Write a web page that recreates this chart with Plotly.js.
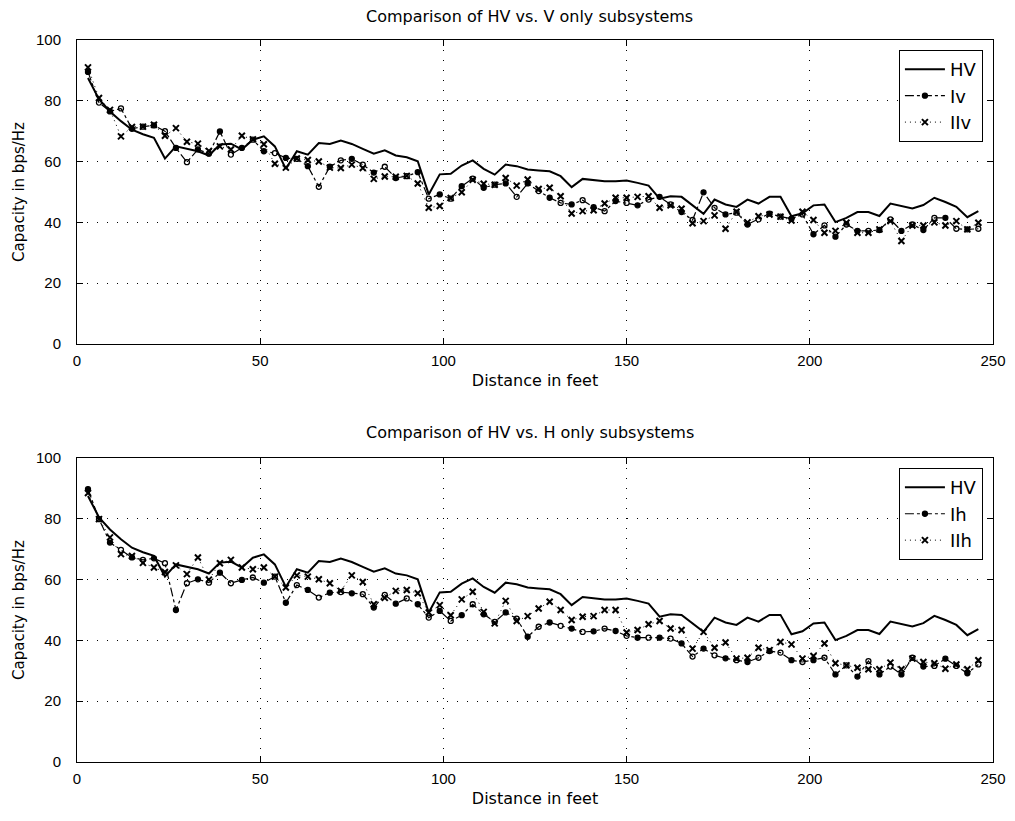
<!DOCTYPE html>
<html>
<head>
<meta charset="utf-8">
<script src="https://cdn.plot.ly/plotly-3.0.1.min.js"></script>
<style>html,body{margin:0;padding:0;background:#fff;}#chart{width:1015px;height:821px;}</style>
</head>
<body>
<div id="chart"></div>
<script>
// Distance in feet
const dist = [3,6,9,12,15,18,21,24,27,30,33,36,39,42,45,48,51,54,57,60,
  63,66,69,72,75,78,81,84,87,90,93,96,99,102,105,108,111,114,117,120,
  123,126,129,132,135,138,141,144,147,150,153,156,159,162,165,168,171,174,177,180,
  183,186,189,192,195,198,201,204,207,210,213,216,219,222,225,228,231,234,237,240,
  243,246];

// Capacity in bps/Hz
const hv = [87.5,80.5,76.5,73.3,70.5,69,67.8,61,65,64.3,
  63.4,62,65.6,65.9,64,67.2,68.3,65,57.6,63.4,
  62.3,66.1,65.8,66.9,65.8,64.2,62.6,63.7,62,61.4,
  60.1,49.2,55.8,56,58.7,60.4,57.6,55.7,59,58.5,
  57.4,57.1,56.8,55.2,51.6,54.3,53.8,53.5,53.5,53.8,
  53,52.1,47.8,48.6,48.4,45.5,42.8,47.5,45.9,45.1,
  47.5,46.2,48.4,48.4,42,43,45.6,45.9,40.1,41.5,
  43.4,43.4,42.1,46.2,45.3,44.6,45.7,48.1,46.7,45.1,
  41.7,43.7];

const iv = [89.5,79.4,76.5,77.5,70.8,71.5,71.9,70,64.5,59.8,
  64,62.6,69.9,62.3,64.5,67.2,63.4,62.8,61.2,60.9,
  58.5,51.7,58.3,60.4,60.9,59,56.4,58.3,54.6,55.2,
  56.5,47.8,49.2,47.8,51.9,54.4,51.4,52.4,52.8,48.4,
  52.8,50.3,48.1,46.4,45.9,47.3,45,43.7,47,46.4,
  45.6,47.5,48.4,45.9,43.4,40.8,49.9,44.8,42.6,43.2,
  39.3,41,42.9,41.9,41.2,42.6,36.1,39,35.3,39.3,
  37.2,37.2,37.5,41,37.2,39.3,37.5,41.5,41.5,37.9,
  37.7,37.9];

const iiv = [91,80.9,77,68.3,71.4,71.5,72.1,68.5,71,66.5,
  65.9,63.5,65,64,68.5,67.3,65.7,59.3,58,61,
  60.5,60,58,57.9,59,57.9,54.3,55.1,55,55.3,
  52.8,44.8,45.4,48,49.9,54,52.7,52.4,54.6,52.1,
  54.1,51,51.4,48.6,42.9,43.7,44,46.2,48.1,48.1,
  48.4,48.6,44.8,45.6,44.5,39.7,40.4,42.3,37.9,43.5,
  40,42,42.6,41.9,40.6,43.5,40.8,36.6,37.2,39.9,
  36.6,36.6,37.7,40.4,33.9,39,39,40,39,40.4,
  37.7,39.9];

const ih = [89.8,79.9,72.2,69.8,67.3,66.5,67,65.4,50,58.8,
  60.1,59,62.3,58.8,59.9,60.7,59,61,52.4,58.2,
  56.6,54.1,55.7,55.9,55.5,55.2,50.8,55,52.1,53.8,
  51.9,47.5,49.7,46.4,48.3,51.9,48.6,46.1,49.2,47.2,
  41.2,44.5,45.9,44.8,43.9,42.8,43,43.9,43.1,41.5,
  40.9,40.9,40.9,40.6,39,34.7,37.3,35.1,34.1,33.5,
  32.9,34.3,36.5,36,33.5,32.9,33.5,34.3,28.8,31.8,
  28.1,33.2,28.8,31.4,28.8,34.3,31.4,31.6,34,31.6,
  29.2,32.1];

const iih = [88.5,79.9,73.9,68.4,67.8,65.5,64,62.5,64.7,61.8,
  67.3,60,65.4,66.5,64,63.4,64,61,57.4,61.4,
  61,60.1,58.8,56.3,61.4,59.2,51.9,54,56.3,56.6,
  55.5,49.2,51.6,48.3,53.5,56,49.4,45.6,53,46.4,
  48,50.5,52.7,50,46.7,47.8,48,50,50,42.6,
  43.4,45.3,46.4,43.9,43.4,37.3,42.8,37.6,39.3,34,
  34.3,37.6,36.8,39.5,38.7,34,34.9,39,32.5,31.8,
  31,30.5,30.5,32.7,30.5,34,32.9,32.5,30.7,32.1,
  30.5,33.5];

const titles = ["Comparison of HV vs. V only subsystems", "Comparison of HV vs. H only subsystems"];
const xTitle = "Distance in feet";
const yTitle = "Capacity in bps/Hz";
const names = {top: ["HV","Iv","IIv"], bottom: ["HV","Ih","IIh"]};

const FONT = "Liberation Sans, Arial, Helvetica, sans-serif";
const TFONT = "DejaVu Sans, Liberation Sans, sans-serif";
const circSyms = dist.map((d, i) => (i % 2 === 0 ? "circle" : "circle-open"));

function hvTrace(xa, ya, lg) {
  return {x: dist, y: hv, xaxis: xa, yaxis: ya, name: "HV", legend: lg,
    mode: "lines", line: {color: "#000", width: 2}};
}
function circTrace(y, name, xa, ya, lg) {
  return {x: dist, y: y, xaxis: xa, yaxis: ya, name: name, legend: lg,
    mode: "lines+markers", line: {color: "#000", width: 1.2, dash: "dashdot"},
    marker: {color: "#000", size: 5, symbol: circSyms, line: {color: "#000", width: 1.3}}};
}
function xTrace(y, name, xa, ya, lg) {
  return {x: dist, y: y, xaxis: xa, yaxis: ya, name: name, legend: lg,
    mode: "lines+markers", line: {color: "#000", width: 1, dash: "1px,4px"},
    marker: {color: "#000", size: 6, symbol: "x-thin-open", line: {color: "#000", width: 2}}};
}

const data = [
  hvTrace("x", "y", "legend"),
  circTrace(iv, names.top[1], "x", "y", "legend"),
  xTrace(iiv, names.top[2], "x", "y", "legend"),
  hvTrace("x2", "y2", "legend2"),
  circTrace(ih, names.bottom[1], "x2", "y2", "legend2"),
  xTrace(iih, names.bottom[2], "x2", "y2", "legend2")
];

function xax(anchor) {
  return {anchor: anchor, range: [0, 250], dtick: 50, tick0: 0,
    showline: true, linecolor: "#000", linewidth: 1, mirror: "ticks",
    ticks: "inside", ticklen: 6, tickcolor: "#000", ticklabelstandoff: 3,
    showgrid: true, gridcolor: "#000", griddash: "1px,9px", gridwidth: 1,
    zeroline: false, tickfont: {family: FONT, size: 15, color: "#000"},
    title: {text: xTitle, font: {family: TFONT, size: 16, color: "#000"}, standoff: 6}};
}
function yax(anchor, domain) {
  return {anchor: anchor, domain: domain, range: [0, 100], dtick: 20, tick0: 0,
    showline: true, linecolor: "#000", linewidth: 1, mirror: "ticks",
    ticks: "inside", ticklen: 6, tickcolor: "#000", ticklabelstandoff: 12,
    showgrid: true, gridcolor: "#000", griddash: "1px,9px", gridwidth: 1,
    zeroline: false, tickfont: {family: FONT, size: 15, color: "#000"},
    title: {text: yTitle, font: {family: TFONT, size: 15, color: "#000"}, standoff: 7}};
}
function leg(ytop) {
  return {x: 0.989, xanchor: "right", y: ytop, yanchor: "top",
    bgcolor: "#fff", bordercolor: "#000", borderwidth: 1,
    font: {family: TFONT, size: 18, color: "#000"}, tracegroupgap: 0, itemwidth: 40};
}

const layout = {
  width: 1015, height: 821,
  margin: {l: 77, r: 22, t: 40, b: 59},
  paper_bgcolor: "#fff", plot_bgcolor: "#fff",
  showlegend: true,
  xaxis: xax("y"),
  yaxis: yax("x", [0.579, 1]),
  xaxis2: xax("y2"),
  yaxis2: yax("x2", [0, 0.421]),
  legend: leg(0.986),
  legend2: leg(0.407),
  annotations: [
    {text: titles[0], xref: "paper", yref: "paper", x: 0.494, y: 1.0, yanchor: "bottom", yshift: 12,
     showarrow: false, font: {family: TFONT, size: 16, color: "#000"}},
    {text: titles[1], xref: "paper", yref: "paper", x: 0.494, y: 0.421, yanchor: "bottom", yshift: 14,
     showarrow: false, font: {family: TFONT, size: 16, color: "#000"}}
  ]
};

Plotly.newPlot("chart", data, layout, {displayModeBar: false, staticPlot: true});
</script>
</body>
</html>
